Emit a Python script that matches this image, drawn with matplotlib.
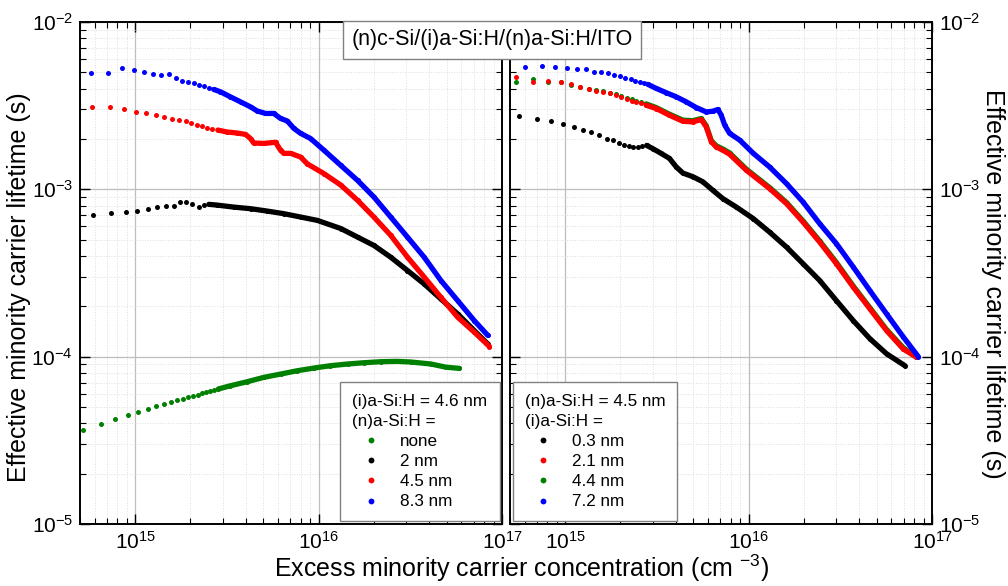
import numpy as np
import matplotlib
matplotlib.use("Agg")
import matplotlib.pyplot as plt
from matplotlib.lines import Line2D
from matplotlib.ticker import LogLocator, NullFormatter

plt.rcParams['font.family'] = ['Liberation Sans', 'DejaVu Sans']
plt.rcParams['mathtext.fontset'] = 'custom'
plt.rcParams['mathtext.rm'] = 'Liberation Sans'
plt.rcParams['mathtext.it'] = 'Liberation Sans:italic'

# ---- left panel: (i)a-Si:H = 4.6 nm, varying (n)a-Si:H ----
# 8.3 nm (blue)
L_blue_n = [5.75e14, 7.11e14, 8.49e14, 9.79e14, 1.12e15, 1.25e15, 1.39e15, 1.52e15, 1.66e15, 1.79e15,
            1.93e15, 2.08e15, 2.22e15, 2.36e15, 2.52e15, 2.68e15, 2.91e15, 3.30e15, 3.75e15, 4.25e15,
            4.62e15, 5.13e15, 5.70e15, 6.20e15, 6.75e15, 7.33e15, 7.97e15, 9.04e15, 1.07e16, 1.32e16,
            1.63e16, 2.00e16, 2.47e16, 3.05e16, 3.76e16, 4.64e16, 5.73e16, 7.06e16, 8.36e16]
L_blue_tau = [4.97e-3, 4.97e-3, 5.31e-3, 5.16e-3, 5.00e-3, 4.89e-3, 4.83e-3, 4.86e-3, 4.62e-3, 4.46e-3,
              4.36e-3, 4.30e-3, 4.20e-3, 4.12e-3, 4.04e-3, 3.95e-3, 3.83e-3, 3.57e-3, 3.33e-3, 3.11e-3,
              2.94e-3, 2.84e-3, 2.84e-3, 2.65e-3, 2.56e-3, 2.31e-3, 2.16e-3, 2.01e-3, 1.71e-3, 1.39e-3,
              1.13e-3, 9.0e-4, 6.83e-4, 5.18e-4, 3.93e-4, 2.85e-4, 2.16e-4, 1.64e-4, 1.34e-4]
L_blue_merge = 2.68e15

# 4.5 nm (red)
L_red_n = [5.82e14, 7.25e14, 8.63e14, 1.01e15, 1.15e15, 1.30e15, 1.44e15, 1.59e15, 1.73e15, 1.88e15,
           2.02e15, 2.17e15, 2.32e15, 2.47e15, 2.63e15, 2.82e15, 3.17e15, 3.59e15, 3.99e15, 4.25e15,
           4.43e15, 5.02e15, 5.82e15, 6.20e15, 6.46e15, 7.03e15, 7.97e15, 8.67e15, 1.07e16, 1.32e16,
           1.63e16, 2.00e16, 2.47e16, 3.05e16, 3.76e16, 4.64e16, 5.73e16, 7.06e16, 8.53e16]
L_red_tau = [3.11e-3, 3.09e-3, 3.00e-3, 2.90e-3, 2.84e-3, 2.77e-3, 2.70e-3, 2.64e-3, 2.61e-3, 2.56e-3,
             2.50e-3, 2.43e-3, 2.38e-3, 2.34e-3, 2.30e-3, 2.26e-3, 2.20e-3, 2.17e-3, 2.13e-3, 2.01e-3,
             1.89e-3, 1.88e-3, 1.91e-3, 1.71e-3, 1.64e-3, 1.64e-3, 1.56e-3, 1.42e-3, 1.24e-3, 1.06e-3,
             8.59e-4, 6.83e-4, 5.31e-4, 3.93e-4, 2.99e-4, 2.26e-4, 1.72e-4, 1.40e-4, 1.15e-4]
L_red_merge = 2.82e15

# 2 nm (black)
L_black_n = [5.92e14, 7.40e14, 8.85e14, 1.02e15, 1.17e15, 1.32e15, 1.47e15, 1.62e15, 1.76e15, 1.89e15,
             2.04e15, 2.22e15, 2.36e15, 2.52e15, 2.79e15, 3.44e15, 4.25e15, 5.25e15, 6.46e15, 7.97e15,
             9.84e15, 1.32e16, 1.63e16, 2.00e16, 2.47e16, 3.05e16, 3.76e16, 4.64e16, 5.73e16, 7.06e16,
             8.36e16]
L_black_tau = [6.98e-4, 7.21e-4, 7.28e-4, 7.41e-4, 7.62e-4, 7.83e-4, 7.91e-4, 7.94e-4, 8.36e-4, 8.36e-4,
               8.13e-4, 7.83e-4, 8.02e-4, 8.13e-4, 8.05e-4, 7.83e-4, 7.66e-4, 7.41e-4, 7.15e-4, 6.83e-4,
               6.52e-4, 5.83e-4, 5.18e-4, 4.62e-4, 3.93e-4, 3.27e-4, 2.72e-4, 2.21e-4, 1.80e-4, 1.43e-4,
               1.19e-4]
L_black_merge = 2.52e15

# none (green)
L_green_n = [5.21e14, 6.50e14, 7.78e14, 9.08e14, 1.04e15, 1.17e15, 1.30e15, 1.43e15, 1.56e15, 1.69e15,
             1.81e15, 1.94e15, 2.07e15, 2.19e15, 2.31e15, 2.44e15, 2.57e15, 2.70e15, 2.84e15, 3.30e15,
             4.07e15, 5.02e15, 6.20e15, 7.65e15, 9.42e15, 1.16e16, 1.44e16, 1.77e16, 2.18e16, 2.69e16,
             3.18e16, 4.09e16, 4.94e16, 5.85e16]
L_green_tau = [3.64e-5, 3.94e-5, 4.22e-5, 4.46e-5, 4.70e-5, 4.86e-5, 5.04e-5, 5.21e-5, 5.38e-5, 5.51e-5,
               5.62e-5, 5.74e-5, 5.84e-5, 5.94e-5, 6.03e-5, 6.15e-5, 6.24e-5, 6.32e-5, 6.41e-5, 6.70e-5,
               7.08e-5, 7.52e-5, 7.87e-5, 8.24e-5, 8.55e-5, 8.83e-5, 9.04e-5, 9.20e-5, 9.33e-5, 9.37e-5,
               9.29e-5, 9.04e-5, 8.65e-5, 8.51e-5]
L_green_merge = 2.84e15

# ---- right panel: (n)a-Si:H = 4.5 nm, varying (i)a-Si:H ----
# 7.2 nm (blue)
R_blue_n = [6.04e14, 7.47e14, 8.81e14, 1.02e15, 1.16e15, 1.30e15, 1.44e15, 1.57e15, 1.71e15, 1.85e15,
            1.99e15, 2.13e15, 2.27e15, 2.40e15, 2.54e15, 2.68e15, 2.82e15, 3.13e15, 3.55e15, 4.03e15,
            4.57e15, 5.18e15, 5.87e15, 6.38e15, 6.80e15, 7.09e15, 7.40e15, 7.87e15, 8.93e15, 1.06e16,
            1.30e16, 1.61e16, 1.98e16, 2.44e16, 3.01e16, 3.72e16, 4.58e16, 5.65e16, 6.97e16, 8.41e16]
R_blue_tau = [5.40e-3, 5.47e-3, 5.38e-3, 5.33e-3, 5.23e-3, 5.23e-3, 5.02e-3, 5.02e-3, 4.93e-3, 4.82e-3,
              4.73e-3, 4.62e-3, 4.54e-3, 4.46e-3, 4.38e-3, 4.32e-3, 4.24e-3, 4.01e-3, 3.78e-3, 3.57e-3,
              3.33e-3, 3.08e-3, 2.90e-3, 2.93e-3, 3.00e-3, 2.77e-3, 2.42e-3, 2.16e-3, 1.97e-3, 1.64e-3,
              1.36e-3, 1.08e-3, 8.39e-4, 6.23e-4, 4.73e-4, 3.43e-4, 2.48e-4, 1.80e-4, 1.31e-4, 1.00e-4]
R_blue_merge = 2.82e15

# 2.1 nm (red)
R_red_n = [5.42e14, 6.71e14, 8.07e14, 9.42e14, 1.07e15, 1.21e15, 1.34e15, 1.47e15, 1.61e15, 1.76e15,
           1.89e15, 2.02e15, 2.16e15, 2.30e15, 2.44e15, 2.59e15, 2.76e15, 3.13e15, 3.70e15, 4.38e15,
           4.96e15, 5.52e15, 5.87e15, 6.26e15, 6.66e15, 7.24e15, 7.87e15, 9.71e15, 1.30e16, 1.61e16,
           1.98e16, 2.44e16, 3.01e16, 3.72e16, 4.58e16, 5.65e16, 6.97e16, 8.24e16]
R_red_tau = [4.67e-3, 4.40e-3, 4.42e-3, 4.36e-3, 4.25e-3, 4.06e-3, 3.95e-3, 3.88e-3, 3.81e-3, 3.74e-3,
             3.64e-3, 3.54e-3, 3.46e-3, 3.38e-3, 3.32e-3, 3.26e-3, 3.18e-3, 3.04e-3, 2.77e-3, 2.55e-3,
             2.53e-3, 2.61e-3, 2.36e-3, 1.92e-3, 1.79e-3, 1.71e-3, 1.62e-3, 1.30e-3, 1.01e-3, 8.20e-4,
             6.37e-4, 4.83e-4, 3.59e-4, 2.60e-4, 1.93e-4, 1.43e-4, 1.11e-4, 9.91e-5]
R_red_merge = 2.76e15

# 4.4 nm (green)
R_green_n = [5.37e14, 6.71e14, 8.07e14, 9.42e14, 1.07e15, 1.21e15, 1.34e15, 1.47e15, 1.61e15, 1.76e15,
             1.89e15, 2.02e15, 2.16e15, 2.30e15, 2.44e15, 2.59e15, 2.76e15, 3.13e15, 3.70e15, 4.38e15,
             4.96e15, 5.52e15, 5.87e15, 6.26e15, 6.66e15, 7.24e15, 7.87e15, 9.71e15, 1.30e16, 1.61e16,
             1.98e16, 2.44e16, 3.01e16, 3.72e16, 4.58e16, 5.65e16, 6.97e16, 8.15e16]
R_green_tau = [4.40e-3, 4.56e-3, 4.40e-3, 4.37e-3, 4.20e-3, 4.11e-3, 4.00e-3, 3.92e-3, 3.85e-3, 3.78e-3,
               3.69e-3, 3.61e-3, 3.52e-3, 3.45e-3, 3.38e-3, 3.32e-3, 3.24e-3, 3.08e-3, 2.81e-3, 2.59e-3,
               2.57e-3, 2.65e-3, 2.40e-3, 1.95e-3, 1.82e-3, 1.74e-3, 1.65e-3, 1.32e-3, 1.025e-3, 8.33e-4,
               6.47e-4, 4.91e-4, 3.65e-4, 2.64e-4, 1.96e-4, 1.45e-4, 1.13e-4, 1.00e-4]
R_green_merge = 2.76e15

# 0.3 nm (black)
R_black_n = [5.56e14, 6.97e14, 8.36e14, 9.66e14, 1.11e15, 1.25e15, 1.39e15, 1.53e15, 1.68e15, 1.82e15,
             1.96e15, 2.09e15, 2.22e15, 2.35e15, 2.48e15, 2.63e15, 2.78e15, 3.00e15, 3.33e15, 3.70e15,
             4.03e15, 4.38e15, 4.96e15, 5.62e15, 6.38e15, 7.24e15, 8.57e15, 1.06e16, 1.30e16, 1.61e16,
             1.98e16, 2.44e16, 3.01e16, 3.72e16, 4.58e16, 5.65e16, 7.11e16]
R_black_tau = [2.74e-3, 2.62e-3, 2.55e-3, 2.44e-3, 2.35e-3, 2.25e-3, 2.19e-3, 2.10e-3, 2.00e-3, 1.96e-3,
               1.89e-3, 1.85e-3, 1.82e-3, 1.79e-3, 1.79e-3, 1.81e-3, 1.83e-3, 1.75e-3, 1.64e-3, 1.53e-3,
               1.36e-3, 1.25e-3, 1.19e-3, 1.11e-3, 9.86e-4, 8.79e-4, 7.83e-4, 6.68e-4, 5.55e-4, 4.51e-4,
               3.59e-4, 2.85e-4, 2.16e-4, 1.64e-4, 1.28e-4, 1.04e-4, 8.83e-5]
R_black_merge = 2.78e15

left_labels = ['none', '2 nm', '4.5 nm', '8.3 nm']
left_colors = ['#008000', 'black', 'red', 'blue']
right_labels = ['0.3 nm', '2.1 nm', '4.4 nm', '7.2 nm']
right_colors = ['black', 'red', '#008000', 'blue']


def draw(ax, n, tau, merge, color, z):
    n = np.asarray(n)
    tau = np.asarray(tau)
    ax.plot(n, tau, 'o', color=color, ms=3.6, mew=0, zorder=z)
    m = n >= merge
    ax.plot(n[m], tau[m], '-', color=color, lw=3.8, solid_capstyle='round',
            solid_joinstyle='round', zorder=z)


def style(ax, labels_right):
    ax.set_xscale('log')
    ax.set_yscale('log')
    ax.set_xlim(5e14, 1e17)
    ax.set_ylim(1e-5, 1e-2)
    for a in (ax.xaxis, ax.yaxis):
        a.set_minor_locator(LogLocator(base=10, subs=np.arange(2, 10)))
        a.set_minor_formatter(NullFormatter())
    ax.grid(True, which='major', color='#bdbdbd', lw=0.9, zorder=0)
    ax.grid(True, which='minor', color='#dddddd', lw=0.7, ls=':', zorder=0)
    ax.tick_params(which='both', direction='in', top=True, right=True,
                   left=True, bottom=True, labelsize=15, pad=5)
    ax.tick_params(which='major', length=7, width=1.0)
    ax.tick_params(which='minor', length=4, width=0.8)
    if labels_right:
        ax.tick_params(axis='y', labelleft=False, labelright=True)
    for s in ax.spines.values():
        s.set_linewidth(1.4)
        s.set_color('black')
    ax.set_axisbelow(True)


def legend(ax, title, labels, colors, loc, anchor):
    h = [Line2D([], [], ls='none', marker='o', color=c, ms=4.2, mew=0) for c in colors]
    leg = ax.legend(h, labels, title=title, loc=loc, bbox_to_anchor=anchor,
                    fontsize=12.3, title_fontsize=12.3, alignment='left',
                    frameon=True, fancybox=False, edgecolor='#808080', framealpha=1,
                    handlelength=2.2, handletextpad=0.6, labelspacing=0.3,
                    borderpad=0.7, borderaxespad=0.15)
    leg.get_title().set_linespacing(1.45)
    leg.get_frame().set_linewidth(1.0)
    leg.set_zorder(5)


fig = plt.figure(figsize=(10.08, 5.86), dpi=100)
axL = fig.add_axes([0.0794, 0.1058, 0.4187, 0.8567])
axR = fig.add_axes([0.5060, 0.1058, 0.4187, 0.8567])

style(axL, False)
style(axR, True)

draw(axL, L_green_n, L_green_tau, L_green_merge, '#008000', 3)
draw(axL, L_black_n, L_black_tau, L_black_merge, 'black', 4)
draw(axL, L_red_n, L_red_tau, L_red_merge, 'red', 5)
draw(axL, L_blue_n, L_blue_tau, L_blue_merge, 'blue', 6)

draw(axR, R_black_n, R_black_tau, R_black_merge, 'black', 3)
draw(axR, R_green_n, R_green_tau, R_green_merge, '#008000', 4)
draw(axR, R_red_n, R_red_tau, R_red_merge, 'red', 5)
draw(axR, R_blue_n, R_blue_tau, R_blue_merge, 'blue', 6)

legend(axL, '(i)a-Si:H = 4.6 nm\n(n)a-Si:H =', left_labels, left_colors,
       'lower right', (1.0, 0.0))
legend(axR, '(n)a-Si:H = 4.5 nm\n(i)a-Si:H =', right_labels, right_colors,
       'lower left', (0.0, 0.0))

fig.text(0.019, 0.51, 'Effective minority carrier lifetime (s)', rotation=90,
         ha='center', va='center', fontsize=18)
fig.text(0.985, 0.515, 'Effective minority carrier lifetime (s)', rotation=270,
         ha='center', va='center', fontsize=18)
fig.text(0.517, 0.031, 'Excess minority carrier concentration (cm $^{-3}$)',
         ha='center', va='center', fontsize=18)
fig.text(0.488, 0.932, '(n)c-Si/(i)a-Si:H/(n)a-Si:H/ITO', ha='center', va='center',
         fontsize=15.5, zorder=10,
         bbox=dict(boxstyle='square,pad=0.4', fc='white', ec='#808080', lw=1.0))

fig.savefig('out.png', dpi=100)
